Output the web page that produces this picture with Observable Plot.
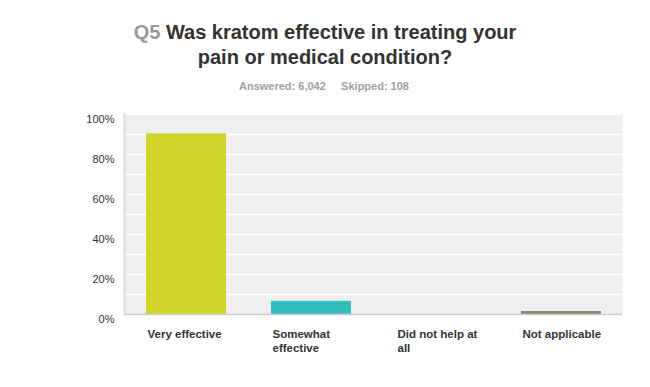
<!DOCTYPE html>
<html>
<head>
<meta charset="utf-8">
<script src="https://cdn.jsdelivr.net/npm/d3@7"></script>
<script src="https://cdn.jsdelivr.net/npm/@observablehq/plot@0.6"></script>
<style>
  html, body { margin: 0; padding: 0; background: #fff; }
  #wrap { position: relative; width: 650px; height: 387px; font-family: "Liberation Sans", Arial, sans-serif; }
  #title { position: absolute; top: 20px; left: 0; width: 650px; text-align: center; font-size: 20px; font-weight: bold; line-height: 25px; color: #333; }
  #title .q { color: #999; }
  #sub { position: absolute; top: 79px; left: 0; width: 648px; text-align: center; font-size: 11px; font-weight: bold; line-height: 14px; color: #a0a0a0; }
  #chart { position: absolute; top: 100px; left: 0; }
</style>
</head>
<body>
<div id="wrap">
  <div id="title"><span class="q">Q5</span> Was kratom effective in treating your<br>pain or medical condition?</div>
  <div id="sub">Answered: 6,042&nbsp;&nbsp;&nbsp;&nbsp;&nbsp;Skipped: 108</div>
  <div id="chart"></div>
</div>
<script>
const categories = ["Very effective", "Somewhat effective", "Did not help at all", "Not applicable"];
const values = [90.3, 6.6, 0, 1.5];
const colors = ["#d0d52a", "#33bebe", "#f79c32", "#878a76"];
const yTicks = [0, 20, 40, 60, 80, 100];
const gridLines = [10, 20, 30, 40, 50, 60, 70, 80, 90, 100];

const data = categories.map((c, i) => ({category: c, value: values[i]}));

const chart = Plot.plot({
  width: 650,
  height: 287,
  marginTop: 14,
  marginBottom: 73,
  marginLeft: 124,
  marginRight: 28,
  style: {fontFamily: "'Liberation Sans', Arial, sans-serif", fontSize: "11px", color: "#333", background: "transparent"},
  x: {domain: categories, paddingInner: 0.36, paddingOuter: 0.17, label: null},
  y: {domain: [0, 100], label: null},
  color: {domain: categories, range: colors},
  marks: [
    Plot.frame({fill: "#efefef", stroke: null}),
    Plot.gridY(gridLines, {stroke: "#ffffff", strokeOpacity: 1, strokeWidth: 1.5}),
    Plot.barY(data.filter(d => d.value > 0), {x: "category", y: "value", fill: "category"}),
    Plot.ruleY([0], {stroke: "#cccccc", strokeWidth: 1.5}),
    Plot.frame({anchor: "left", stroke: "#dddddd", strokeWidth: 2}),
    Plot.axisY(yTicks, {tickSize: 0, tickPadding: 10, dy: 4.5, tickFormat: d => d + "%", label: null, fill: "#333"}),
    Plot.axisX({tickSize: 0, tickPadding: 14, textAnchor: "start", dx: -39, lineWidth: 7.6, lineHeight: 1.22, fontSize: 11.5, fontWeight: "bold", fill: "#333", label: null})
  ]
});
document.getElementById("chart").appendChild(chart);
</script>
</body>
</html>
